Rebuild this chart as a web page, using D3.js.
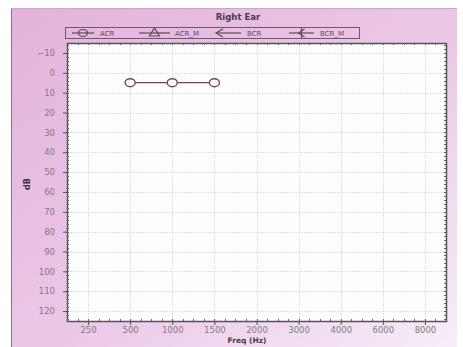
<!DOCTYPE html>
<html>
<head>
<meta charset="utf-8">
<script src="https://cdn.jsdelivr.net/npm/d3@7"></script>
<style>
  html, body { margin: 0; padding: 0; background: #fff; }
  svg { display: block; font-family: "DejaVu Sans", "Liberation Sans", Arial, sans-serif; }
</style>
</head>
<body>
<svg id="chart" width="463" height="347"></svg>
<script>
// Audiogram, right ear: test frequencies and measured thresholds
const freqs = ["250", "500", "1000", "1500", "2000", "3000", "4000", "6000", "8000"];
const acrFreqs = ["500", "1000", "1500"];
const acrValues = [5, 5, 5];
const dbTicks = [-10, 0, 10, 20, 30, 40, 50, 60, 70, 80, 90, 100, 110, 120];
const legendNames = ["ACR", "ACR_M", "BCR", "BCR_M"];

const svg = d3.select("#chart");
const plot = { left: 67, top: 43, right: 446, bottom: 321 };

// panel background gradient
const defs = svg.append("defs");
const grad = defs.append("linearGradient").attr("id", "panelGrad")
  .attr("x1", "0%").attr("y1", "0%").attr("x2", "100%").attr("y2", "100%");
grad.append("stop").attr("offset", "0%").attr("stop-color", "#e4b2dc");
grad.append("stop").attr("offset", "55%").attr("stop-color", "#ecc8e8");
grad.append("stop").attr("offset", "100%").attr("stop-color", "#f6eef8");

svg.append("rect").attr("x", 11).attr("y", 8).attr("width", 446).attr("height", 339)
  .attr("fill", "url(#panelGrad)");
svg.append("line").attr("x1", 11.5).attr("x2", 11.5).attr("y1", 8).attr("y2", 347)
  .attr("stroke", "#8a7088").attr("stroke-width", 1);
svg.append("line").attr("x1", 11).attr("x2", 457).attr("y1", 8.5).attr("y2", 8.5)
  .attr("stroke", "#c9a8c6").attr("stroke-width", 1);

const x = d3.scalePoint().domain(freqs).range([plot.left, plot.right]).padding(0.5);
const y = d3.scaleLinear().domain([-15, 125]).range([plot.top, plot.bottom]);

// plot area
svg.append("rect").attr("x", plot.left).attr("y", plot.top)
  .attr("width", plot.right - plot.left).attr("height", plot.bottom - plot.top)
  .attr("fill", "#fdfdfd");

// grid
const grid = svg.append("g").attr("stroke", "#e0e0e0").attr("stroke-width", 1)
  .attr("stroke-dasharray", "2,1");
grid.selectAll(".h").data(dbTicks).join("line")
  .attr("x1", plot.left).attr("x2", plot.right)
  .attr("y1", d => Math.round(y(d)) + 0.5).attr("y2", d => Math.round(y(d)) + 0.5);
grid.selectAll(".v").data(freqs).join("line")
  .attr("y1", plot.top).attr("y2", plot.bottom)
  .attr("x1", d => Math.round(x(d)) + 0.5).attr("x2", d => Math.round(x(d)) + 0.5);

// axes
const yAxis = d3.axisLeft(y).tickValues(dbTicks).tickSize(4).tickPadding(8);
const gy = svg.append("g").attr("transform", `translate(${plot.left},0)`).call(yAxis);
const xAxis = d3.axisBottom(x).tickSize(4).tickPadding(2);
const gx = svg.append("g").attr("transform", `translate(0,${plot.bottom})`).call(xAxis);
[gy, gx].forEach(g => {
  g.select(".domain").remove();
  g.selectAll(".tick line").attr("stroke", "#555");
  g.selectAll(".tick text").attr("fill", "#7c7c7c").attr("font-size", 8.5)
    .attr("font-family", "'DejaVu Sans', sans-serif");
});

// minor ticks along the frame
const minor = svg.append("g").attr("stroke", "#666").attr("stroke-width", 1);
const yMinor = d3.range(-14, 125, 2);
minor.selectAll(".ly").data(yMinor).join("line")
  .attr("x1", plot.left).attr("x2", plot.left + 2)
  .attr("y1", d => Math.round(y(d)) + 0.5).attr("y2", d => Math.round(y(d)) + 0.5);
minor.selectAll(".ry").data(yMinor).join("line")
  .attr("x1", plot.right - 2).attr("x2", plot.right)
  .attr("y1", d => Math.round(y(d)) + 0.5).attr("y2", d => Math.round(y(d)) + 0.5);
const step = x.step();
const xMinor = d3.range(plot.left + step / 4, plot.right, step / 4);
minor.selectAll(".tx").data(xMinor).join("line")
  .attr("y1", plot.top).attr("y2", plot.top + 2)
  .attr("x1", d => Math.round(d) + 0.5).attr("x2", d => Math.round(d) + 0.5);
minor.selectAll(".bx").data(xMinor).join("line")
  .attr("y1", plot.bottom - 2).attr("y2", plot.bottom)
  .attr("x1", d => Math.round(d) + 0.5).attr("x2", d => Math.round(d) + 0.5);

// frame
svg.append("rect").attr("x", plot.left + 0.5).attr("y", plot.top + 0.5)
  .attr("width", plot.right - plot.left).attr("height", plot.bottom - plot.top)
  .attr("fill", "none").attr("stroke", "#555").attr("stroke-width", 1.5);

// ACR series
const lineColor = "#7c4452";
const acr = acrFreqs.map((f, i) => ({ f, v: acrValues[i] }));
svg.append("path").datum(acr)
  .attr("d", d3.line().x(d => x(d.f)).y(d => y(d.v)))
  .attr("fill", "none").attr("stroke", lineColor).attr("stroke-width", 1.3);
svg.selectAll(".acr").data(acr).join("ellipse")
  .attr("cx", d => x(d.f)).attr("cy", d => y(d.v)).attr("rx", 5).attr("ry", 4)
  .attr("fill", "#fdfdfd").attr("stroke", lineColor).attr("stroke-width", 1.4);

// title and axis labels
svg.append("text").attr("x", 238).attr("y", 20).attr("text-anchor", "middle")
  .attr("font-size", 8.5).attr("font-weight", "bold").attr("fill", "#4a3a48").text("Right Ear");
svg.append("text").attr("x", 247).attr("y", 343).attr("text-anchor", "middle")
  .attr("font-size", 7.5).attr("font-weight", "bold").attr("fill", "#4a3a48").text("Freq (Hz)");
svg.append("text").attr("transform", "translate(30,184) rotate(-90)").attr("text-anchor", "middle")
  .attr("font-size", 8).attr("font-weight", "bold").attr("fill", "#3a2a48").text("dB");

// legend
const lg = svg.append("g");
lg.append("rect").attr("x", 65.5).attr("y", 27.5).attr("width", 294).attr("height", 11)
  .attr("fill", "none").attr("stroke", "#6a5a6a").attr("stroke-width", 1);
const items = [
  { name: legendNames[0], x0: 72, x1: 94, tx: 100, mark: "circle" },
  { name: legendNames[1], x0: 139, x1: 170, tx: 175, mark: "triangle" },
  { name: legendNames[2], x0: 216, x1: 241, tx: 247, mark: "arrow" },
  { name: legendNames[3], x0: 289, x1: 314, tx: 320, mark: "arrowbar" }
];
const ly = 33;
items.forEach(it => {
  lg.append("line").attr("x1", it.x0).attr("x2", it.x1).attr("y1", ly).attr("y2", ly)
    .attr("stroke", "#5a4a5a").attr("stroke-width", 1.2);
  const cx = (it.x0 + it.x1) / 2;
  if (it.mark === "circle") {
    lg.append("ellipse").attr("cx", cx).attr("cy", ly).attr("rx", 4.5).attr("ry", 3.5)
      .attr("fill", "none").attr("stroke", "#5a4a5a").attr("stroke-width", 1.2);
  } else if (it.mark === "triangle") {
    lg.append("path").attr("d", `M${cx},${ly - 5}L${cx + 5},${ly + 3}L${cx - 5},${ly + 3}Z`)
      .attr("fill", "none").attr("stroke", "#5a4a5a").attr("stroke-width", 1.2);
  } else if (it.mark === "arrow") {
    lg.append("path").attr("d", `M${it.x0 + 7},${ly - 4}L${it.x0},${ly}L${it.x0 + 7},${ly + 4}`)
      .attr("fill", "none").attr("stroke", "#5a4a5a").attr("stroke-width", 1.2);
  } else {
    lg.append("path").attr("d", `M${cx + 3},${ly - 4}L${cx - 3},${ly}L${cx + 3},${ly + 4}M${cx},${ly - 5}L${cx},${ly + 5}`)
      .attr("fill", "none").attr("stroke", "#5a4a5a").attr("stroke-width", 1.2);
  }
  lg.append("text").attr("x", it.tx).attr("y", ly + 2.5).attr("font-size", 7)
    .attr("fill", "#5a4a5a").text(it.name);
});
</script>
</body>
</html>
